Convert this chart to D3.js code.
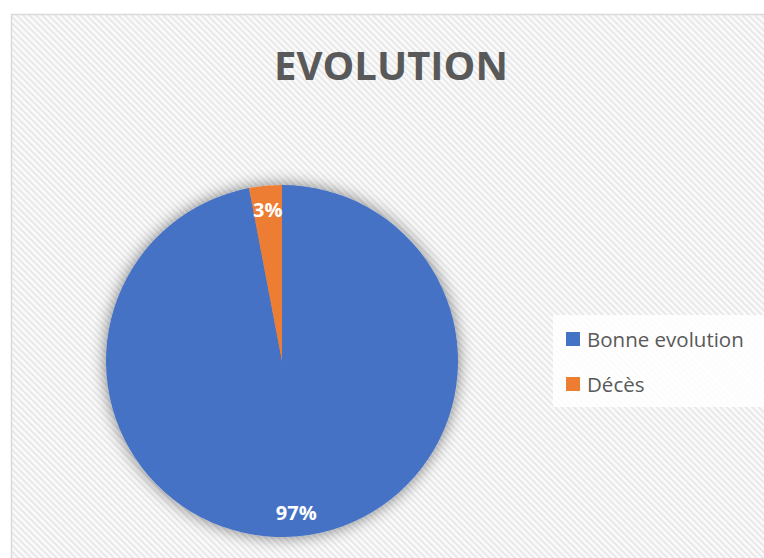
<!DOCTYPE html>
<html>
<head>
<meta charset="utf-8">
<script src="https://cdn.jsdelivr.net/npm/d3@7"></script>
<style>
  html, body { margin: 0; padding: 0; background: #ffffff; }
  svg { display: block; }
</style>
</head>
<body>
<div id="chart"></div>
<script>
// Outcome breakdown
const categories = ["Bonne evolution", "Décès"];
const values = [97, 3];
const colors = ["#4472c4", "#ed7d31"];
const chartTitle = "EVOLUTION";

const width = 764, height = 558;
const font = "'Open Sans', 'DejaVu Sans', sans-serif";

const svg = d3.select("#chart").append("svg")
  .attr("width", width)
  .attr("height", height);

const defs = svg.append("defs");

// diagonal hatch used for the chart area background
const hatch = defs.append("pattern")
  .attr("id", "hatch")
  .attr("patternUnits", "userSpaceOnUse")
  .attr("width", 4.5)
  .attr("height", 4.5)
  .attr("patternTransform", "rotate(-45)");
hatch.append("rect").attr("width", 4.5).attr("height", 4.5).attr("fill", "#fbfbfb");
hatch.append("rect").attr("width", 2).attr("height", 4.5).attr("fill", "#e8e8e8");

// soft shadow around the pie
const shadow = defs.append("filter")
  .attr("id", "pieShadow")
  .attr("x", "-20%").attr("y", "-20%")
  .attr("width", "140%").attr("height", "140%");
shadow.append("feGaussianBlur").attr("in", "SourceAlpha").attr("stdDeviation", 8).attr("result", "blur");
shadow.append("feComponentTransfer").attr("in", "blur").attr("result", "soft")
  .append("feFuncA").attr("type", "linear").attr("slope", 0.5);
const merge = shadow.append("feMerge");
merge.append("feMergeNode").attr("in", "soft");
merge.append("feMergeNode").attr("in", "SourceGraphic");

// chart area
svg.append("rect")
  .attr("x", 11.5).attr("y", 14.5)
  .attr("width", width + 20).attr("height", height + 20)
  .attr("fill", "url(#hatch)")
  .attr("stroke", "#d9d9d9")
  .attr("stroke-width", 1.5);

// title
svg.append("text")
  .attr("x", 391).attr("y", 79.5)
  .attr("text-anchor", "middle")
  .attr("font-family", font)
  .attr("font-weight", 700)
  .attr("font-size", 40)
  .attr("fill", "#595959")
  .text(chartTitle);

// pie
const cx = 282, cy = 361, radius = 176;
const total = d3.sum(values);
const data = categories.map((c, i) => ({ name: c, value: values[i], color: colors[i] }));

const pie = d3.pie().value(d => d.value).sort(null);
const arcs = pie(data);
const arc = d3.arc().innerRadius(0).outerRadius(radius);
const labelArc = d3.arc().innerRadius(152).outerRadius(152);

const g = svg.append("g").attr("transform", `translate(${cx},${cy})`);
g.append("g").attr("filter", "url(#pieShadow)")
  .selectAll("path")
  .data(arcs)
  .join("path")
  .attr("d", arc)
  .attr("fill", d => d.data.color);

g.selectAll("text.pct")
  .data(arcs)
  .join("text")
  .attr("class", "pct")
  .attr("transform", d => `translate(${labelArc.centroid(d)})`)
  .attr("text-anchor", "middle")
  .attr("dy", "0.36em")
  .attr("font-family", font)
  .attr("font-weight", 700)
  .attr("font-size", 20)
  .attr("fill", "#ffffff")
  .text(d => Math.round(d.data.value / total * 100) + "%");

// legend
const legend = svg.append("g");
legend.append("rect")
  .attr("x", 553).attr("y", 315)
  .attr("width", 230).attr("height", 92)
  .attr("fill", "#ffffff")
  .attr("fill-opacity", 0.85);

const legendY = d3.scalePoint().domain(categories).range([339, 384]);
const item = legend.selectAll("g.item")
  .data(data)
  .join("g")
  .attr("class", "item")
  .attr("transform", d => `translate(566,${legendY(d.name)})`);
item.append("rect")
  .attr("x", 0).attr("y", -7)
  .attr("width", 14).attr("height", 14)
  .attr("fill", d => d.color);
item.append("text")
  .attr("x", 21).attr("y", 7.5)
  .attr("font-family", font)
  .attr("font-size", 20.5)
  .attr("fill", "#595959")
  .text(d => d.name);
</script>
</body>
</html>
